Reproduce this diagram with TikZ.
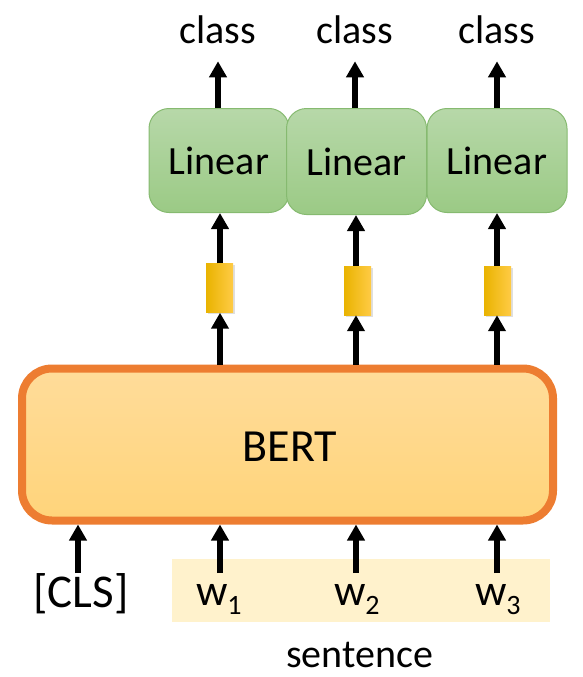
\documentclass[tikz,border=0pt]{standalone}
\usepackage{fontspec}
\setmainfont{Carlito}
\usetikzlibrary{arrows.meta,shadows}
\definecolor{bertline}{HTML}{ED7D31}
\definecolor{berttop}{HTML}{FFDC9A}
\definecolor{bertbot}{HTML}{FFD47A}
\definecolor{lintop}{HTML}{B7D8A9}
\definecolor{linbot}{HTML}{9BCA85}
\definecolor{linline}{HTML}{86BA70}
\definecolor{sentbg}{HTML}{FFF2CC}
\definecolor{barl}{HTML}{E9B300}
\definecolor{barm}{HTML}{FFC000}
\definecolor{barr}{HTML}{FFCB45}
\begin{document}
\begin{tikzpicture}[x=1pt,y=-1pt,
  txt/.style={inner sep=0pt, outer sep=0pt, text=black},
  arr/.style={line width=5.5pt, -{Triangle[width=17pt,length=16pt]}},
  linbox/.style={draw=linline, line width=1pt, rounded corners=20pt,
    top color=lintop, bottom color=linbot, minimum width=140pt, minimum height=104pt,
    font=\fontsize{40}{40}\selectfont, inner sep=0pt},
  barbox/.style={left color=barl, middle color=barm, right color=barr,
    minimum width=27pt, minimum height=49pt, inner sep=0pt,
    drop shadow={shadow xshift=1.5pt, shadow yshift=-1.5pt, opacity=0.25}},
  bertbox/.style={draw=bertline, line width=8pt, rounded corners=30pt,
    top color=berttop, bottom color=bertbot, minimum width=531pt, minimum height=152pt,
    inner sep=0pt}
]
\useasboundingbox (0,0) rectangle (582,677);

% sentence background
\node[fill=sentbg, minimum width=378pt, minimum height=63pt, inner sep=0pt] (sbg) at (361,590.5) {};

% BERT
\node[bertbox] (bert) at (287.5,444.5) {};
\node[txt, font=\fontsize{46}{46}\selectfont, anchor=base] (berttxt) at (290,461) {BERT};

% Linear boxes
\node[linbox] (lin1) at (219,160.5) {Linear};
\node[linbox, minimum height=106pt] (lin2) at (356.5,161.5) {Linear};
\node[linbox] (lin3) at (497,160.5) {Linear};

% bars
\node[barbox] (bar1) at (219.5,288) {};
\node[barbox] (bar2) at (357.5,290.5) {};
\node[barbox] (bar3) at (497.5,290.5) {};

% class labels
\node[txt, font=\fontsize{40}{40}\selectfont, anchor=base] (c1) at (218,44) {class};
\node[txt, font=\fontsize{40}{40}\selectfont, anchor=base] (c2) at (355,44) {class};
\node[txt, font=\fontsize{40}{40}\selectfont, anchor=base] (c3) at (497,44) {class};

% input labels
\node[txt, font=\fontsize{47}{47}\selectfont, anchor=base] (cls) at (81,607) {[CLS]};
\node[txt, font=\fontsize{44}{44}\selectfont, anchor=base west] (w1) at (196,605) {w\raisebox{-0.22em}{\fontsize{28}{28}\selectfont 1}};
\node[txt, font=\fontsize{44}{44}\selectfont, anchor=base west] (w2) at (334,605) {w\raisebox{-0.22em}{\fontsize{28}{28}\selectfont 2}};
\node[txt, font=\fontsize{44}{44}\selectfont, anchor=base west] (w3) at (475,605) {w\raisebox{-0.22em}{\fontsize{28}{28}\selectfont 3}};
\node[txt, font=\fontsize{40}{40}\selectfont, anchor=base] (sent) at (359.5,667) {sentence};

% arrow starts
\coordinate (s0) at (78,573);
\coordinate (s1) at (220,573);
\coordinate (s2) at (356,573);
\coordinate (s3) at (497,573);

% bottom arrows
\draw[arr] (s0) -- (s0 |- bert.south);
\draw[arr] (s1) -- (s1 |- bert.south);
\draw[arr] (s2) -- (s2 |- bert.south);
\draw[arr] (s3) -- (s3 |- bert.south);

% BERT to bars
\draw[arr] (bert.north -| s1) -- (s1 |- bar1.south);
\draw[arr] (bert.north -| s2) -- (s2 |- bar2.south);
\draw[arr] (bert.north -| s3) -- (s3 |- bar3.south);

% bars to Linear
\draw[arr] (s1 |- bar1.north) -- (s1 |- lin1.south);
\draw[arr] (s2 |- bar2.north) -- (s2 |- lin2.south);
\draw[arr] (s3 |- bar3.north) -- (s3 |- lin3.south);

% Linear to class
\draw[arr, shorten >=17pt] (lin1.north -| c1) -- (c1.south);
\draw[arr, shorten >=17pt] (lin2.north -| c2) -- (c2.south);
\draw[arr, shorten >=17pt] (lin3.north -| c3) -- (c3.south);
\end{tikzpicture}
\end{document}
